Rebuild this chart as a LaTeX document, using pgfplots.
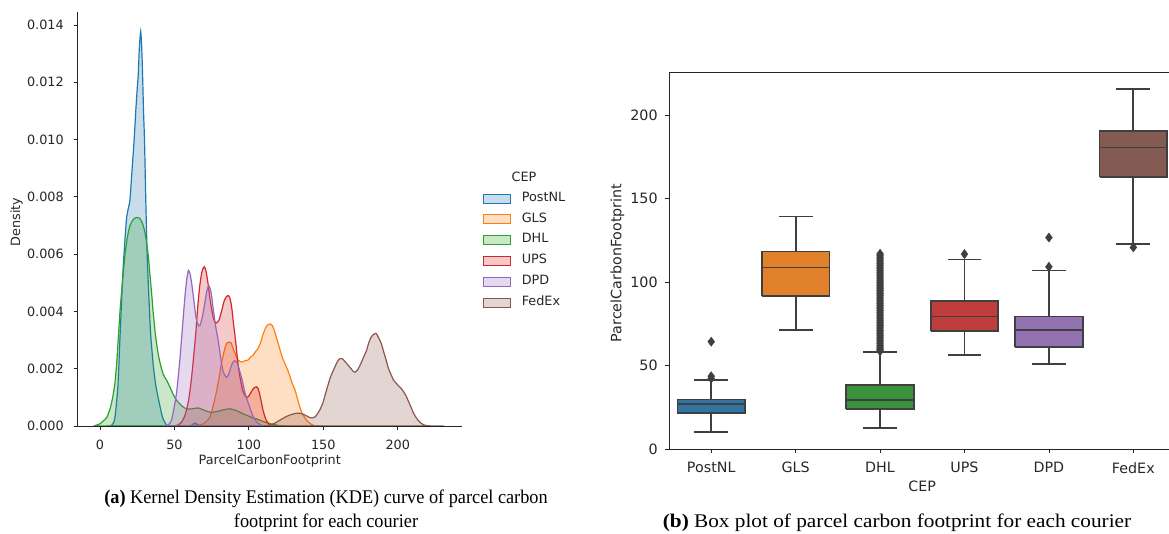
\documentclass[border=0pt]{standalone}
\usepackage{pgfplots}
\pgfplotsset{compat=1.18}
\usepackage{pgfplotstable}
\usepackage{fontspec}
\setmainfont{DejaVu Sans}
\newfontfamily\capfont{Liberation Serif}
\definecolor{tblue}{HTML}{1F77B4}
\definecolor{torange}{HTML}{FF7F0E}
\definecolor{tgreen}{HTML}{2CA02C}
\definecolor{tred}{HTML}{D62728}
\definecolor{tpurple}{HTML}{9467BD}
\definecolor{tbrown}{HTML}{8C564B}
\definecolor{bblue}{HTML}{3274A1}
\definecolor{borange}{HTML}{E1812C}
\definecolor{bgreen}{HTML}{3A923A}
\definecolor{bred}{HTML}{C03D3E}
\definecolor{bpurple}{HTML}{9372B2}
\definecolor{bbrown}{HTML}{845B53}
\definecolor{bline}{HTML}{3F3F3F}
\definecolor{spine}{HTML}{262626}
\tikzset{bx/.style={draw=bline, line width=1.35pt, line join=miter, line cap=butt},
  outl/.style={only marks, mark=diamond*, mark size=3.5pt, mark options={fill=bline, draw=bline, line width=0.2pt}}}

\pgfplotstableread{
x y
5 0
8 0.00003
10 0.0003
12 0.0014
13.4 0.0031
14.5 0.0044
15.6 0.0056
17 0.0067
17.9 0.0073
19 0.0076
20.1 0.0079
21.3 0.0088
22.8 0.0099
24 0.0110
25 0.0118
25.7 0.0123
26.4 0.0132
27.3 0.01377
28 0.0132
28.6 0.0122
29.2 0.0110
29.9 0.0099
30.8 0.0077
31.7 0.0059
32.8 0.0045
34 0.0032
35.8 0.0021
37.5 0.0014
39.8 0.0008
42 0.0003
44.7 0.00003
47 0
60 0
62 0.00005
63.8 0.0001
65.5 0.00005
68 0
}\postnl

\pgfplotstableread{
x y
64 0
67 0.00003
70 0.0001
73.7 0.0003
76 0.0007
78.2 0.0012
80 0.0017
81.6 0.0022
83.8 0.0027
85.3 0.0029
86.7 0.00293
88 0.0029
89.4 0.0027
91 0.0025
92.7 0.0023
94.2 0.00225
95.6 0.00223
97.5 0.00228
99.4 0.0023
101 0.0024
102.8 0.00247
104.5 0.0026
106.1 0.0027
107.8 0.0029
109.5 0.0032
111.5 0.00345
113 0.00354
114.2 0.00356
115.8 0.0035
117.3 0.0033
119 0.003
120.7 0.0027
122.4 0.0024
124 0.0022
125.7 0.002
127.4 0.00176
129 0.0015
130.7 0.0013
132.4 0.001
134 0.0007
135.7 0.00045
137.4 0.0003
139 0.00018
140.8 0.0001
143 0.00003
146 0
150 0
}\gls

\pgfplotstableread{
x y
-4 0
-2.5 0.00003
0 0.00008
2.2 0.00018
4.5 0.0003
6.7 0.0006
8.5 0.001
10 0.0015
11.2 0.0022
12.3 0.0031
13.4 0.0040
14.5 0.0047
15.7 0.0054
16.8 0.0060
18.4 0.0066
20.1 0.0070
22.5 0.00722
24.5 0.00728
26.4 0.00726
28.3 0.0071
30 0.0068
31.3 0.0064
32.5 0.0059
33.5 0.0053
34.7 0.0046
35.8 0.0039
37.4 0.0031
39.1 0.0025
40.8 0.0021
42.5 0.0018
44.7 0.0016
47 0.00135
49.2 0.0011
51.4 0.0009
55 0.0007
58 0.0006
62 0.0006
65.9 0.00063
69.5 0.00056
73.7 0.00048
78 0.0005
82.5 0.00056
87.2 0.0006
91.5 0.00054
96 0.00043
101 0.00032
105.5 0.00024
109.5 0.00016
113 0.0001
116 0.00006
120 0.00002
123 0
}\dhl

\pgfplotstableread{
x y
50 0
52 0.00003
54.5 0.00012
56.5 0.0003
58.1 0.00056
59.8 0.001
61.5 0.0017
63 0.0025
64.4 0.0033
65.7 0.0042
67 0.0049
68.5 0.0054
70 0.00556
71.2 0.0054
72.5 0.0050
73.7 0.0045
74.9 0.0041
76.5 0.0037
78.2 0.0036
79.9 0.0037
81.6 0.0040
83.6 0.0044
85.6 0.00455
87 0.0045
88.3 0.0042
89.6 0.0036
91 0.0030
92.2 0.0024
93.4 0.0019
94.8 0.0015
96.1 0.0012
98.3 0.001
100 0.00105
101.7 0.0012
103.4 0.00133
105 0.00137
106.2 0.0013
107.3 0.0011
108.5 0.0008
109.5 0.00055
110.6 0.00035
111.7 0.0002
113.5 0.00007
116 0
}\ups

\pgfplotstableread{
x y
44 0
46 0.00005
48 0.0002
50.3 0.0008
51.5 0.0012
52.5 0.0017
53.6 0.0023
54.7 0.003
55.9 0.0038
57 0.0045
58.2 0.0051
59.4 0.00543
60.5 0.0053
61.5 0.0050
63 0.0044
64.4 0.0038
65.7 0.00355
67 0.0035
68.7 0.0038
70.4 0.0043
71.7 0.0047
73 0.0049
74.5 0.0047
76 0.0041
77.6 0.0035
79.3 0.003
81 0.0024
82.7 0.0019
84.9 0.0017
86.3 0.0018
87.6 0.002
89 0.0022
90.5 0.00228
92.2 0.0022
93.9 0.0019
95.5 0.0016
97.2 0.0012
98.9 0.0009
100.6 0.00065
102.3 0.0004
103.9 0.00024
105.6 0.00012
107.3 0.00006
110 0
}\dpd

\pgfplotstableread{
x y
110 0
114 0.00003
117.5 0.0001
120.7 0.0002
124 0.0003
127.4 0.00038
130.5 0.00043
133.6 0.00045
136 0.00042
138.5 0.00036
140.6 0.0003
142.6 0.00028
144.5 0.00032
146.4 0.00045
148 0.0006
149.7 0.0008
151.3 0.0011
153 0.0014
154.7 0.0017
156.4 0.0019
158.1 0.0021
159.8 0.00228
161.5 0.00236
163 0.00234
165.4 0.0022
167 0.0021
168.7 0.002
170.2 0.0019
171.6 0.00188
173.5 0.002
175.4 0.0022
177 0.0024
178.8 0.0026
180.5 0.0029
182.1 0.0031
183.8 0.0032
185.5 0.00323
187 0.0031
188.8 0.0029
190.5 0.0026
192.2 0.0023
193.8 0.002
195.5 0.0018
197.2 0.0016
198.9 0.0015
200.5 0.0014
202.2 0.00132
203.9 0.0012
205.6 0.00105
207.3 0.00085
209 0.00065
210.6 0.00045
212.3 0.0003
214 0.00018
215.6 0.0001
217.5 0.00004
220 0.00001
225 0
231 0
}\fedex

\begin{document}
\begin{tikzpicture}[x=1pt,y=1pt]
\useasboundingbox (0,0) rectangle (876.75,399.75);
% ---------------- left: KDE ----------------
\begin{axis}[
  at={(58.3pt,80.25pt)}, anchor=south west,
  scale only axis, width=288pt, height=310.7pt,
  xmin=-15, xmax=243, ymin=0, ymax=0.01446,
  axis x line*=bottom, axis y line*=left,
  axis line style={spine, line width=0.6pt, -},
  tick align=outside, major tick length=3pt,
  tick style={spine, line width=0.6pt},
  xtick={0,50,100,150,200},
  ytick={0,0.002,0.004,0.006,0.008,0.010,0.012,0.014},
  scaled y ticks=false,
  yticklabel style={/pgf/number format/fixed, /pgf/number format/fixed zerofill, /pgf/number format/precision=3},
  /pgf/number format/assume math mode=true,
  tick label style={font=\fontsize{9.6}{11}\selectfont, color=black!85},
  xticklabel shift=4pt, yticklabel shift=4pt,
  label style={font=\fontsize{9.6}{11}\selectfont, color=black!85},
  xlabel={ParcelCarbonFootprint},
  xlabel style={at={(axis description cs:0.5,-0.0845)}, anchor=center},
  ylabel={Density},
  ylabel style={at={(axis description cs:-0.159,0.493)}, anchor=center},
  axis on top,
  legend style={at={(rel axis cs:1.0555,0.5612)}, anchor=north west, draw=none, fill=none,
    inner sep=0pt, outer sep=0pt, row sep=8pt,
    font=\fontsize{9.6}{11}\selectfont, text=black!85,
    nodes={inner sep=0pt, text height=5.6pt, text depth=1.6pt},
    /tikz/every odd column/.append style={column sep=8.25pt}},
  legend cell align=left,
  legend image code/.code={\draw[#1, line width=0.8pt] (0pt,-3.4pt) rectangle (20pt,3.4pt);},
]
\addplot[tblue, fill=tblue, fill opacity=0.25, line width=0.9pt, smooth, tension=0.4] table {\postnl} \closedcycle;
\addlegendentry{PostNL}
\addplot[torange, fill=torange, fill opacity=0.25, line width=0.9pt, smooth, tension=0.4] table {\gls} \closedcycle;
\addlegendentry{GLS}
\addplot[tgreen, fill=tgreen, fill opacity=0.25, line width=0.9pt, smooth, tension=0.4] table {\dhl} \closedcycle;
\addlegendentry{DHL}
\addplot[tred, fill=tred, fill opacity=0.25, line width=0.9pt, smooth, tension=0.4] table {\ups} \closedcycle;
\addlegendentry{UPS}
\addplot[tpurple, fill=tpurple, fill opacity=0.25, line width=0.9pt, smooth, tension=0.4] table {\dpd} \closedcycle;
\addlegendentry{DPD}
\addplot[tbrown, fill=tbrown, fill opacity=0.25, line width=0.9pt, smooth, tension=0.4] table {\fedex} \closedcycle;
\addlegendentry{FedEx}
\end{axis}
\node[font=\fontsize{9.6}{11}\selectfont, text=black!85] at (393,267) {CEP};

% ---------------- right: box plot ----------------
\begin{axis}[
  at={(501.75pt,63pt)}, anchor=south west,
  scale only axis, width=379.9pt, height=282.5pt,
  xmin=-0.5, xmax=5.5, ymin=0, ymax=225.7,
  axis line style={spine, line width=0.6pt},
  tick align=outside, major tick length=3pt,
  tick style={spine, line width=0.6pt},
  xtick pos=bottom, ytick pos=left,
  xtick={0,1,2,3,4,5}, xticklabels={PostNL,GLS,DHL,UPS,DPD,FedEx},
  ytick={0,50,100,150,200},
  /pgf/number format/assume math mode=true,
  tick label style={font=\fontsize{10.7}{12}\selectfont, color=black!85},
  xticklabel shift=3.5pt, yticklabel shift=2pt,
  label style={font=\fontsize{10.7}{12}\selectfont, color=black!85},
  xlabel={CEP},
  xlabel style={at={(axis description cs:0.5,-0.098)}, anchor=center},
  ylabel={ParcelCarbonFootprint},
  ylabel style={at={(axis description cs:-0.102,0.494)}, anchor=center},
]
% PostNL
\addplot[bx] coordinates {(0,10.4) (0,21.8)};
\addplot[bx] coordinates {(0,29.7) (0,41.3)};
\addplot[bx] coordinates {(-0.2,10.4) (0.2,10.4)};
\addplot[bx] coordinates {(-0.2,41.3) (0.2,41.3)};
\addplot[bx, fill=bblue] coordinates {(-0.4,21.8) (0.4,21.8) (0.4,29.7) (-0.4,29.7) (-0.4,21.8)};
\addplot[bx] coordinates {(-0.4,26.9) (0.4,26.9)};
\addplot[outl] coordinates {(0,42.2) (0,43.6) (0,64.3)};
% GLS
\addplot[bx] coordinates {(1,71.5) (1,91.6)};
\addplot[bx] coordinates {(1,118.4) (1,139.3)};
\addplot[bx] coordinates {(0.8,71.5) (1.2,71.5)};
\addplot[bx] coordinates {(0.8,139.3) (1.2,139.3)};
\addplot[bx, fill=borange] coordinates {(0.6,91.6) (1.4,91.6) (1.4,118.4) (0.6,118.4) (0.6,91.6)};
\addplot[bx] coordinates {(0.6,108.8) (1.4,108.8)};
% DHL
\addplot[bx] coordinates {(2,12.8) (2,24.2)};
\addplot[bx] coordinates {(2,38.5) (2,57.9)};
\addplot[bx] coordinates {(1.8,12.8) (2.2,12.8)};
\addplot[bx] coordinates {(1.8,57.9) (2.2,57.9)};
\addplot[bx, fill=bgreen] coordinates {(1.6,24.2) (2.4,24.2) (2.4,38.5) (1.6,38.5) (1.6,24.2)};
\addplot[bx] coordinates {(1.6,29.3) (2.4,29.3)};
\addplot[outl] coordinates {(2,58.6) (2,59.3) (2,60) (2,61) (2,62) (2,63) (2,64) (2,65) (2,66) (2,67) (2,68) (2,69) (2,70) (2,71) (2,72) (2,73) (2,74) (2,75) (2,76) (2,77) (2,78) (2,79) (2,80) (2,81) (2,82) (2,83) (2,84) (2,85) (2,86) (2,87) (2,88) (2,89) (2,90) (2,91) (2,92) (2,93) (2,94) (2,95) (2,96) (2,97) (2,98) (2,99) (2,100) (2,101) (2,102) (2,103) (2,104) (2,105) (2,106) (2,107) (2,108) (2,109) (2,110) (2,111) (2,112) (2,113) (2,114) (2,115) (2,116) (2,117)};
% UPS
\addplot[bx] coordinates {(3,56.1) (3,70.7)};
\addplot[bx] coordinates {(3,88.6) (3,113.6)};
\addplot[bx] coordinates {(2.8,56.1) (3.2,56.1)};
\addplot[bx] coordinates {(2.8,113.6) (3.2,113.6)};
\addplot[bx, fill=bred] coordinates {(2.6,70.7) (3.4,70.7) (3.4,88.6) (2.6,88.6) (2.6,70.7)};
\addplot[bx] coordinates {(2.6,79.4) (3.4,79.4)};
\addplot[outl] coordinates {(3,116.8)};
% DPD
\addplot[bx] coordinates {(4,50.7) (4,61.1)};
\addplot[bx] coordinates {(4,79.4) (4,107)};
\addplot[bx] coordinates {(3.8,50.7) (4.2,50.7)};
\addplot[bx] coordinates {(3.8,107) (4.2,107)};
\addplot[bx, fill=bpurple] coordinates {(3.6,61.1) (4.4,61.1) (4.4,79.4) (3.6,79.4) (3.6,61.1)};
\addplot[bx] coordinates {(3.6,71.3) (4.4,71.3)};
\addplot[outl] coordinates {(4,109.2) (4,126.7)};
% FedEx
\addplot[bx] coordinates {(5,122.8) (5,163)};
\addplot[bx] coordinates {(5,190.6) (5,215.6)};
\addplot[bx] coordinates {(4.8,122.8) (5.2,122.8)};
\addplot[bx] coordinates {(4.8,215.6) (5.2,215.6)};
\addplot[bx, fill=bbrown] coordinates {(4.6,163) (5.4,163) (5.4,190.6) (4.6,190.6) (4.6,163)};
\addplot[bx] coordinates {(4.6,180.6) (5.4,180.6)};
\addplot[outl] coordinates {(5,120.8)};
\end{axis}

% ---------------- captions ----------------
\node[anchor=base, inner sep=0pt, font=\capfont\fontsize{14.5}{18}\selectfont] at (244.5,22.3) {\scalebox{0.945}[1]{{\bfseries (a)} Kernel Density Estimation (KDE) curve of parcel carbon}};
\node[anchor=base, inner sep=0pt, font=\capfont\fontsize{14.5}{18}\selectfont] at (244.5,4.0) {\scalebox{0.945}[1]{footprint for each courier}};
\node[anchor=base, inner sep=0pt, font=\capfont\fontsize{14.5}{18}\selectfont] at (672.75,4.5) {\scalebox{1.1}[1]{{\bfseries (b)} Box plot of parcel carbon footprint for each courier}};
\end{tikzpicture}
\end{document}
